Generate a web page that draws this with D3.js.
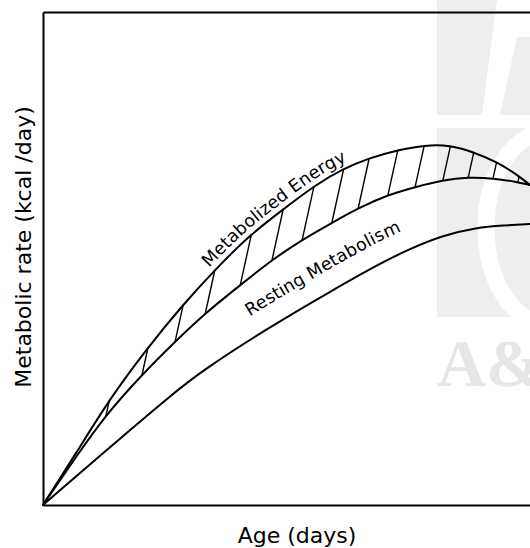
<!DOCTYPE html>
<html>
<head>
<meta charset="utf-8">
<script src="https://cdn.jsdelivr.net/npm/d3@7"></script>
<style>
  body { margin: 0; background: #fff; }
  svg { display: block; }
</style>
</head>
<body>
<svg id="chart" width="530" height="548"></svg>
<script>
// Metabolized energy intake vs. age (relative units, no tick values on either axis)
const energyAge  = [0, 6.8, 13.8, 21.4, 28.7, 35.3, 42.5, 49.1, 55.9, 61.6, 67.1, 72.9, 78.4, 83.6, 88.3, 93.2, 97.5, 100];
const energyRate = [0, 10.5, 21.7, 31.8, 40.6, 47.7, 54.8, 59.8, 64.9, 68.2, 70.4, 72.0, 73.0, 73.0, 71.6, 69.6, 66.9, 64.9];

// Total expenditure (lower edge of the hatched band)
const expenditureAge  = [0, 6.8, 12.9, 20.3, 27.1, 33.3, 40.5, 47.0, 53.2, 59.3, 64.7, 70.8, 76.4, 82.1, 87.3, 92.4, 97.5, 100];
const expenditureRate = [0, 9.8, 18.3, 26.4, 33.1, 38.9, 44.6, 49.7, 53.8, 57.2, 60.2, 62.9, 64.5, 65.9, 66.5, 66.3, 65.5, 64.9];

// Resting metabolism
const restingAge  = [0, 13.8, 26.7, 32.2, 46.0, 59.5, 69.2, 75.4, 82.1, 89.1, 94.5, 100];
const restingRate = [0, 11.8, 22.6, 26.9, 35.8, 43.6, 49.0, 52.0, 54.7, 56.3, 56.7, 57.0];

// Ages where hatch strokes leave the lower edge of the band
const hatchAge = [12.9, 20.3, 27.1, 33.3, 40.5, 47.0, 53.2, 59.3, 64.7, 70.8, 76.4, 82.1, 87.3, 92.4, 97.5];

const xTitle = "Age (days)";
const yTitle = "Metabolic rate (kcal /day)";
const energyLabel = "Metabolized Energy";
const restingLabel = "Resting Metabolism";

const svg = d3.select("#chart");
const margin = { left: 43, top: 12, right: 0, bottom: 43 };
const W = 530, H = 548;

const x = d3.scaleLinear().domain([0, 100]).range([margin.left, W - margin.right]);
const y = d3.scaleLinear().domain([0, 100]).range([H - margin.bottom, margin.top]);

// --- faint publisher mark in the background ---
const wm = svg.append("g").attr("class", "mark");
const wmFill = "#eeeeee";
wm.append("rect").attr("x", 437).attr("y", 0).attr("width", 93).attr("height", 115).attr("fill", wmFill);
wm.append("path").attr("d", "M497,0 L530,0 L530,37 L517,37 L500,115 L482,115 Z").attr("fill", "#fff");
wm.append("rect").attr("x", 437).attr("y", 128).attr("width", 93).attr("height", 189).attr("fill", wmFill);
wm.append("ellipse").attr("cx", 548).attr("cy", 228).attr("rx", 62).attr("ry", 96)
  .attr("fill", "none").attr("stroke", "#fff").attr("stroke-width", 17);
wm.append("text").attr("x", 437).attr("y", 386)
  .attr("font-family", "Liberation Serif, serif").attr("font-weight", "bold")
  .attr("font-size", 68).attr("fill", "#e6e6e6").text("A&");

// --- frame ---
const axisG = svg.append("g").attr("class", "axes");
axisG.append("g").attr("transform", `translate(0,${y(0)})`)
  .call(d3.axisBottom(x).ticks(0).tickSizeOuter(0));
axisG.append("g").attr("transform", `translate(0,${y(100)})`)
  .call(d3.axisTop(x).ticks(0).tickSizeOuter(0));
axisG.append("g").attr("transform", `translate(${x(0)},0)`)
  .call(d3.axisLeft(y).ticks(0).tickSizeOuter(0));
axisG.selectAll(".domain").attr("stroke", "#000").attr("stroke-width", 2);

// --- curves ---
const line = d3.line().x(d => x(d[0])).y(d => y(d[1])).curve(d3.curveBasis);
const zip = (a, b) => a.map((v, i) => [v, b[i]]);

const curves = svg.append("g").attr("fill", "none").attr("stroke", "#000").attr("stroke-width", 2)
  .attr("stroke-linejoin", "round").attr("stroke-linecap", "round");
const energyPath = curves.append("path").attr("id", "energy").attr("d", line(zip(energyAge, energyRate)));
const expendPath = curves.append("path").attr("id", "expend").attr("d", line(zip(expenditureAge, expenditureRate)));
const restPath   = curves.append("path").attr("id", "resting").attr("d", line(zip(restingAge, restingRate)));

// sample a drawn path so its height can be looked up at any horizontal pixel
function sampler(node) {
  const total = node.getTotalLength();
  const pts = [];
  for (let l = 0; l <= total; l += 0.5) { const p = node.getPointAtLength(l); pts.push([p.x, p.y]); }
  return px => {
    let i = d3.bisector(d => d[0]).left(pts, px);
    if (i <= 0) return pts[0][1];
    if (i >= pts.length) return pts[pts.length - 1][1];
    const a = pts[i - 1], b = pts[i];
    const t = b[0] === a[0] ? 0 : (px - a[0]) / (b[0] - a[0]);
    return a[1] + t * (b[1] - a[1]);
  };
}
const topY = sampler(energyPath.node());
const lowY = sampler(expendPath.node());

// hatching between the two upper curves, leaning to the right
const slant = 0.22;
const hatch = hatchAge.map(a => {
  const x0 = x(a), y0 = lowY(x0);
  let t = 0;
  while (t < 200 && (y0 - t) > topY(x0 + slant * t)) t += 0.25;
  return [[x0, y0], [x0 + slant * t, y0 - t]];
});
svg.append("g").attr("stroke", "#000").attr("stroke-width", 1.4)
  .selectAll("line").data(hatch).join("line")
  .attr("x1", d => d[0][0]).attr("y1", d => d[0][1])
  .attr("x2", d => d[1][0]).attr("y2", d => d[1][1]);

// --- curve labels set along the curves ---
function lengthAtX(node, px) {
  let lo = 0, hi = node.getTotalLength();
  for (let k = 0; k < 40; k++) {
    const mid = (lo + hi) / 2;
    if (node.getPointAtLength(mid).x < px) lo = mid; else hi = mid;
  }
  return lo;
}
const labelFont = "DejaVu Sans, sans-serif";
svg.append("text").attr("font-family", labelFont).attr("font-size", 17.5).attr("dy", -6)
  .append("textPath").attr("href", "#energy")
  .attr("startOffset", lengthAtX(energyPath.node(), x(35.0)))
  .text(energyLabel);
svg.append("text").attr("font-family", labelFont).attr("font-size", 17.5).attr("dy", -20)
  .append("textPath").attr("href", "#resting")
  .attr("startOffset", lengthAtX(restPath.node(), x(44.6)))
  .text(restingLabel);

// --- axis titles ---
svg.append("text").attr("x", 297).attr("y", 543).attr("text-anchor", "middle")
  .attr("font-family", labelFont).attr("font-size", 22).text(xTitle);
svg.append("text").attr("transform", "translate(31,247) rotate(-90)").attr("text-anchor", "middle")
  .attr("font-family", labelFont).attr("font-size", 22).text(yTitle);
</script>
</body>
</html>
